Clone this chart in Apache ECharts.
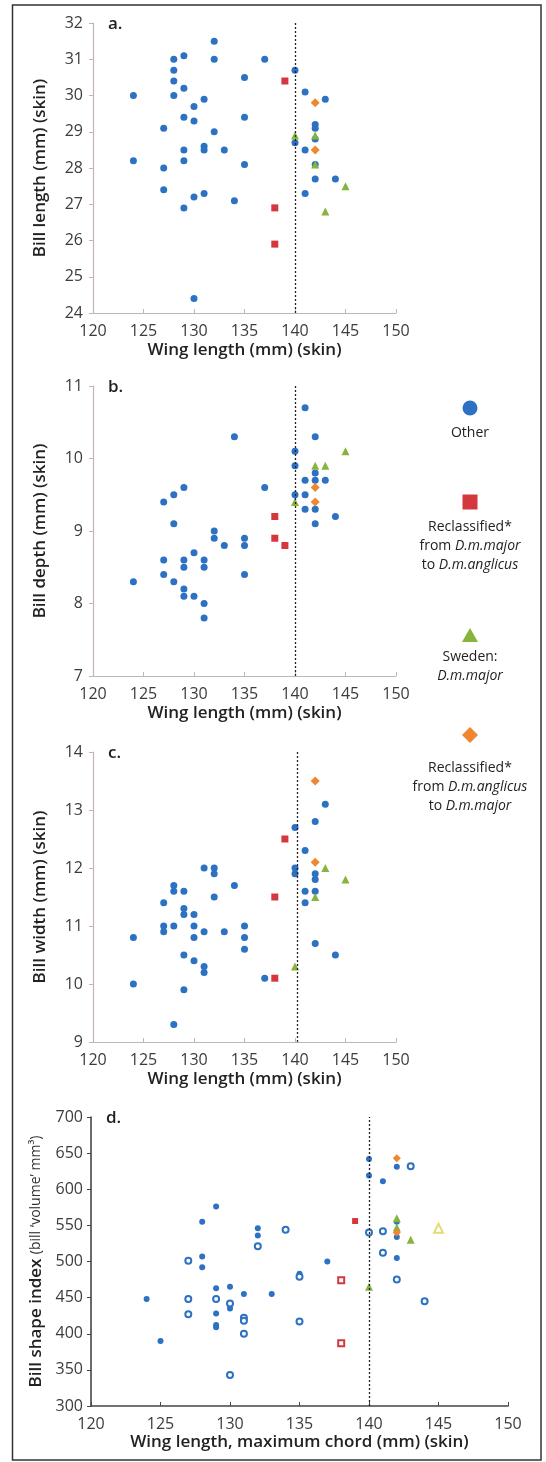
<!DOCTYPE html>
<html>
<head>
<meta charset="utf-8">
<script src="https://cdn.jsdelivr.net/npm/echarts@6/dist/echarts.min.js"></script>
<style>
  html, body { margin: 0; padding: 0; background: #fff; }
  #chart { width: 546px; height: 1462px; }
</style>
</head>
<body>
<div id="chart"></div>
<script>
// wing length vs bill measurements, [wing, value]
// a. bill length
const aOther = [[132,31.5],[128,31.0],[129,31.1],[132,31.0],[137,31.0],[140,30.7],[128,30.7],[135,30.5],[128,30.4],[129,30.2],[124,30.0],[128,30.0],[141,30.1],[131,29.9],[143,29.9],[130,29.7],[129,29.4],[135,29.4],[130,29.3],[142,29.2],[142,29.1],[127,29.1],[132,29.0],[142,28.8],[140,28.7],[131,28.6],[131,28.5],[129,28.5],[133,28.5],[141,28.5],[124,28.2],[129,28.2],[135,28.1],[142,28.1],[127,28.0],[142,27.7],[144,27.7],[127,27.4],[141,27.3],[131,27.3],[130,27.2],[134,27.1],[129,26.9],[130,24.4]];
const aToAnglicus = [[139,30.4],[138,26.9],[138,25.9]];
const aSweden = [[140,28.9],[142,28.9],[142,28.1],[145,27.5],[143,26.8]];
const aToMajor = [[142,29.8],[142,28.5]];

// b. bill depth
const bOther = [[141,10.7],[134,10.3],[142,10.3],[140,10.1],[140,9.9],[142,9.8],[141,9.7],[142,9.7],[143,9.7],[129,9.6],[137,9.6],[128,9.5],[140,9.5],[141,9.5],[127,9.4],[141,9.3],[142,9.3],[144,9.2],[128,9.1],[142,9.1],[132,9.0],[132,8.9],[135,8.9],[133,8.8],[135,8.8],[130,8.7],[127,8.6],[129,8.6],[131,8.6],[129,8.5],[131,8.5],[127,8.4],[135,8.4],[124,8.3],[128,8.3],[129,8.2],[129,8.1],[130,8.1],[131,8.0],[131,7.8]];
const bToAnglicus = [[138,9.2],[138,8.9],[139,8.8]];
const bSweden = [[145,10.1],[142,9.9],[143,9.9],[140,9.4]];
const bToMajor = [[142,9.6],[142,9.4]];

// c. bill width
const cOther = [[143,13.1],[142,12.8],[140,12.7],[141,12.3],[131,12.0],[132,12.0],[140,12.0],[132,11.9],[140,11.9],[142,11.9],[142,11.8],[128,11.7],[134,11.7],[128,11.6],[129,11.6],[141,11.6],[142,11.6],[132,11.5],[127,11.4],[141,11.4],[129,11.3],[129,11.2],[130,11.2],[127,11.0],[128,11.0],[130,11.0],[135,11.0],[127,10.9],[131,10.9],[133,10.9],[124,10.8],[130,10.8],[135,10.8],[142,10.7],[135,10.6],[129,10.5],[144,10.5],[130,10.4],[131,10.3],[131,10.2],[137,10.1],[124,10.0],[129,9.9],[128,9.3]];
const cToAnglicus = [[139,12.5],[138,11.5],[138,10.1]];
const cSweden = [[143,12.0],[145,11.8],[142,11.5],[140,10.3]];
const cToMajor = [[142,13.5],[142,12.1]];

// d. bill shape index (filled / open markers)
const dOther = [[129,576],[128,555],[132,546],[132,536],[128,507],[128,492],[137,500],[135,483],[129,463],[130,465],[131,455],[133,455],[124,448],[130,435],[129,428],[129,412],[129,409],[125,390],[140,642],[142,631],[140,619],[141,611],[142,555],[142,534],[142,505]];
const dOtherOpen = [[134,544],[132,521],[127,501],[135,479],[127,448],[129,448],[130,442],[127,427],[131,422],[131,418],[135,417],[131,400],[130,343],[143,632],[140,540],[141,542],[141,512],[142,475],[144,445]];
const dToAnglicus = [[139,556]];
const dToAnglicusOpen = [[138,474],[138,387]];
const dSweden = [[142,560],[142,547],[143,530],[140,465]];
const dSwedenOpen = [[145,546]];
const dToMajor = [[142,643],[142,540]];

const yTitles = ['Bill length (mm) (skin)', 'Bill depth (mm) (skin)', 'Bill width (mm) (skin)',
  '{b|Bill shape index} {n|(bill \u2018volume\u2019 mm\u00b3)}'];
const xTitles = ['Wing length (mm) (skin)', 'Wing length (mm) (skin)', 'Wing length (mm) (skin)',
  'Wing length, maximum chord (mm) (skin)'];
const yRanges = [[24, 32, 1], [7, 11, 1], [9, 14, 1], [300, 700, 50]];
const cutoff = [140, 140, 140.2, 140];
const panelNames = ['a.', 'b.', 'c.', 'd.'];

const FONT = '"Open Sans", "Noto Sans", sans-serif';
const BLUE = '#2d71c3', RED = '#d4373d', GREEN = '#86b43c', ORANGE = '#ef8630', PALE = '#e3dc78';

const grids = [
  { left: 93, width: 303, top: 23, height: 290 },
  { left: 93, width: 303, top: 386, height: 290 },
  { left: 93, width: 303, top: 752, height: 290 },
  { left: 91, width: 417, top: 1117, height: 289 }
];

const xAxes = grids.map((g, i) => {
  const dark = i === 3;
  return {
    gridIndex: i, type: 'value', min: 120, max: 150, interval: 5,
    name: xTitles[i], nameLocation: 'middle', nameGap: dark ? 28 : 29,
    nameTextStyle: { fontFamily: FONT, fontSize: 17, fontWeight: 600, color: '#222' },
    axisLine: { lineStyle: { color: dark ? '#4a4343' : '#c2b6b1', width: dark ? 1.6 : 1.2 } },
    axisTick: { inside: true, length: 4, lineStyle: { color: dark ? '#4a4343' : '#c2b6b1' } },
    axisLabel: { fontFamily: FONT, fontSize: 16, color: '#3c3c3c', margin: 10 },
    splitLine: { show: false }
  };
});

const yAxes = grids.map((g, i) => {
  const dark = i === 3;
  return {
    gridIndex: i, type: 'value', min: yRanges[i][0], max: yRanges[i][1], interval: yRanges[i][2],
    name: yTitles[i], nameLocation: 'middle', nameGap: dark ? 42 : 44,
    nameTextStyle: {
      fontFamily: FONT, fontSize: 17, fontWeight: 600, color: '#222',
      rich: {
        b: { fontFamily: FONT, fontSize: 17, fontWeight: 600, color: '#222' },
        n: { fontFamily: FONT, fontSize: 14, fontWeight: 'normal', color: '#333' }
      }
    },
    axisLine: { show: true, lineStyle: { color: dark ? '#4a4343' : '#c2b6b1', width: dark ? 1.6 : 1.2 } },
    axisTick: { show: true, length: 4, lineStyle: { color: dark ? '#4a4343' : '#c2b6b1' } },
    axisLabel: { fontFamily: FONT, fontSize: 16, color: '#3c3c3c', margin: dark ? 8 : 10 },
    splitLine: { show: false }
  };
});

function pts(data, g, symbol, color, size, z) {
  return {
    type: 'scatter', xAxisIndex: g, yAxisIndex: g, data: data,
    symbol: symbol, symbolSize: size, z: z || 2, silent: true,
    itemStyle: { color: color, opacity: 1, borderWidth: symbol.indexOf('empty') === 0 ? 1.3 : 0 }
  };
}

function cutLine(g) {
  return {
    type: 'scatter', xAxisIndex: g, yAxisIndex: g, data: [], z: 1,
    markLine: {
      silent: true, symbol: 'none', label: { show: false },
      lineStyle: { color: '#222', type: [2, 2], width: 1.3 },
      data: [{ xAxis: cutoff[g] }]
    }
  };
}

const series = [
  cutLine(0), pts(aOther, 0, 'circle', BLUE, 7), pts(aToAnglicus, 0, 'rect', RED, 7, 3),
  pts(aSweden, 0, 'triangle', GREEN, 8, 4), pts(aToMajor, 0, 'diamond', ORANGE, 9, 5),
  cutLine(1), pts(bOther, 1, 'circle', BLUE, 7), pts(bToAnglicus, 1, 'rect', RED, 7, 3),
  pts(bSweden, 1, 'triangle', GREEN, 8, 4), pts(bToMajor, 1, 'diamond', ORANGE, 9, 5),
  cutLine(2), pts(cOther, 2, 'circle', BLUE, 7), pts(cToAnglicus, 2, 'rect', RED, 7, 3),
  pts(cSweden, 2, 'triangle', GREEN, 8, 4), pts(cToMajor, 2, 'diamond', ORANGE, 9, 5),
  cutLine(3), pts(dOther, 3, 'circle', BLUE, 6), pts(dOtherOpen, 3, 'emptyCircle', BLUE, 6),
  pts(dToAnglicus, 3, 'rect', RED, 6, 3), pts(dToAnglicusOpen, 3, 'emptyRect', RED, 6, 3),
  pts(dSweden, 3, 'triangle', GREEN, 8, 4), pts(dSwedenOpen, 3, 'emptyTriangle', PALE, 9, 4),
  pts(dToMajor, 3, 'diamond', ORANGE, 8, 5)
];

// legend column on the right
const LX = 470;
const legendFont = { fontFamily: FONT, fontSize: 14, fill: '#222', align: 'center', verticalAlign: 'middle' };
const ital = { i: { fontFamily: FONT, fontSize: 14, fontStyle: 'italic', fill: '#222' } };
function ltext(y, text) {
  return { type: 'text', silent: true, x: LX, y: y, style: Object.assign({ text: text, rich: ital }, legendFont) };
}

const graphic = [
  { type: 'rect', silent: true, shape: { x: 12.5, y: 5, width: 528.5, height: 1455 },
    style: { fill: 'none', stroke: '#333', lineWidth: 1.5 } },
  { type: 'circle', silent: true, shape: { cx: LX, cy: 408, r: 7.5 }, style: { fill: BLUE } },
  ltext(433, 'Other'),
  { type: 'rect', silent: true, shape: { x: LX - 7.5, y: 494.5, width: 15, height: 15 }, style: { fill: RED } },
  ltext(527, 'Reclassified*'), ltext(546, 'from {i|D.m.major}'), ltext(565, 'to {i|D.m.anglicus}'),
  { type: 'polygon', silent: true, shape: { points: [[LX - 8, 642], [LX + 8, 642], [LX, 628]] }, style: { fill: GREEN } },
  ltext(657, 'Sweden:'), ltext(676, '{i|D.m.major}'),
  { type: 'polygon', silent: true, shape: { points: [[LX, 727], [LX + 8, 735], [LX, 743], [LX - 8, 735]] }, style: { fill: ORANGE } },
  ltext(768, 'Reclassified*'), ltext(787, 'from {i|D.m.anglicus}'), ltext(806, 'to {i|D.m.major}')
];
panelNames.forEach((t, i) => {
  graphic.push({
    type: 'text', silent: true, x: grids[i].left + 15, y: grids[i].top + 1,
    style: { text: t, fontFamily: FONT, fontSize: 17, fontWeight: 600, fill: '#1e1e1e', verticalAlign: 'middle' }
  });
});

const chart = echarts.init(document.getElementById('chart'));
chart.setOption({
  animation: false,
  backgroundColor: '#fff',
  grid: grids,
  xAxis: xAxes,
  yAxis: yAxes,
  series: series,
  graphic: graphic
});
</script>
</body>
</html>
